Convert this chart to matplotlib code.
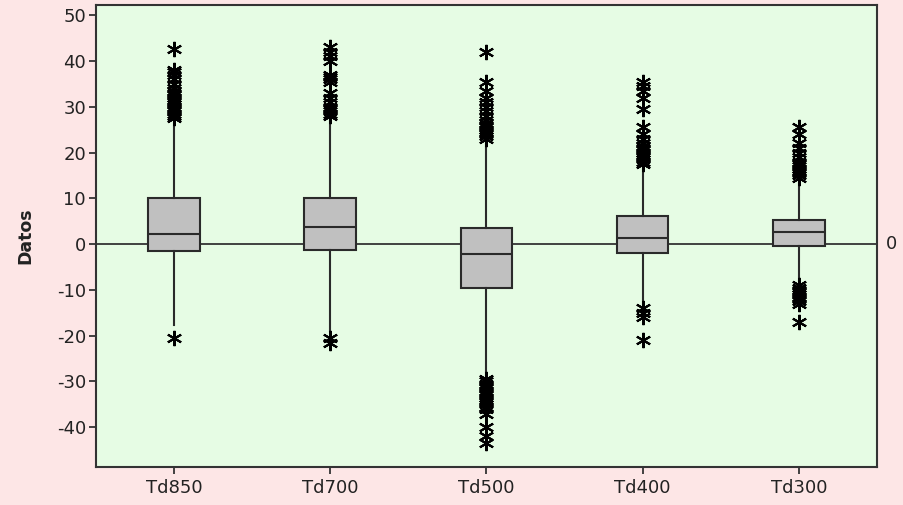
import matplotlib
matplotlib.use("Agg")
import matplotlib.pyplot as plt

categories = ["Td850", "Td700", "Td500", "Td400", "Td300"]
q1 = [-1.6, -1.3, -9.6, -2.0, -0.4]
med = [2.2, 3.7, -2.2, 1.3, 2.6]
q3 = [10.0, 10.1, 3.5, 6.1, 5.2]
whislo = [-17.7, -19.0, -29.0, -13.5, -8.5]
whishi = [26.8, 27.0, 22.5, 17.0, 14.0]
outliers = [
    [27.5, 28, 28.5, 29, 29.5, 30, 30.5, 31, 31.5, 32, 32.5, 33, 33.5, 34, 35, 36, 37, 37.5, 38, 42.5, -20.5],
    [28, 28.5, 29, 29.5, 30, 31, 32, 33, 35.5, 36, 36.5, 37, 40, 41, 42, 43, -20.5, -21.5],
    [23, 23.5, 24, 24.5, 25, 25.5, 26, 26.5, 27, 28, 29, 30, 31, 32, 33.5, 35.5, 42,
     -29.5, -30, -30.5, -31, -31.5, -32, -32.5, -33, -33.5, -34, -34.5, -35, -35.5, -36, -37, -40, -42, -43.5],
    [17.5, 18, 18.5, 19, 19.5, 20, 20.5, 21, 21.5, 22, 23, 24, 25.5, 29.5, 32, 33.5, 34.5, 35.5,
     -14, -15, -16, -21],
    [14.5, 15, 15.5, 16, 16.5, 17, 17.5, 18, 19, 20, 21, 22, 24, 25.5,
     -9, -9.5, -10, -10.5, -11, -11.5, -12, -12.5, -13, -17],
]
yticks = [50, 40, 30, 20, 10, 0, -10, -20, -30, -40]

plt.rcParams['font.family'] = ['DejaVu Sans']
plt.rcParams['axes.unicode_minus'] = False
fig = plt.figure(figsize=(9.04, 5.05), dpi=100)
fig.patch.set_facecolor('#fde6e6')
ax = fig.add_axes([0.106, 0.075, 0.864, 0.915])
ax.set_facecolor('#e6fce4')

stats = []
for i, name in enumerate(categories):
    stats.append(dict(label=name, q1=q1[i], med=med[i], q3=q3[i],
                      whislo=whislo[i], whishi=whishi[i], fliers=outliers[i]))

ax.axhline(0, color='#333333', lw=1.3, zorder=1)
ax.bxp(stats, positions=range(1, 6), widths=0.33, patch_artist=True,
       showcaps=False,
       boxprops=dict(facecolor='#c0c0c0', edgecolor='#2a2a2a', lw=1.5),
       medianprops=dict(color='#2a2a2a', lw=1.5),
       whiskerprops=dict(color='#2a2a2a', lw=1.5),
       flierprops=dict(marker=(6, 2, 0), markersize=11, markeredgecolor='black',
                       markerfacecolor='black', markeredgewidth=1.5, linestyle='none'),
       zorder=3)

ax.set_xlim(0.5, 5.5)
ax.set_ylim(-48.7, 52.2)
ax.set_yticks(yticks)
ax.set_xticks(range(1, 6))
ax.set_xticklabels(categories)
ax.tick_params(axis='both', direction='out', length=5, width=1.3, colors='#333333',
               labelsize=13, labelcolor='#222222')
ax.tick_params(axis='y', pad=2)
for s in ax.spines.values():
    s.set_color('#333333')
    s.set_linewidth(1.5)
ax.set_ylabel('Datos', fontsize=12.5, fontweight='bold', color='#222222', labelpad=16)
ax.text(1.012, 0, '0', transform=ax.get_yaxis_transform(), va='center', ha='left',
        fontsize=13, color='#222222')

fig.savefig('out.png', dpi=100, facecolor=fig.get_facecolor())
